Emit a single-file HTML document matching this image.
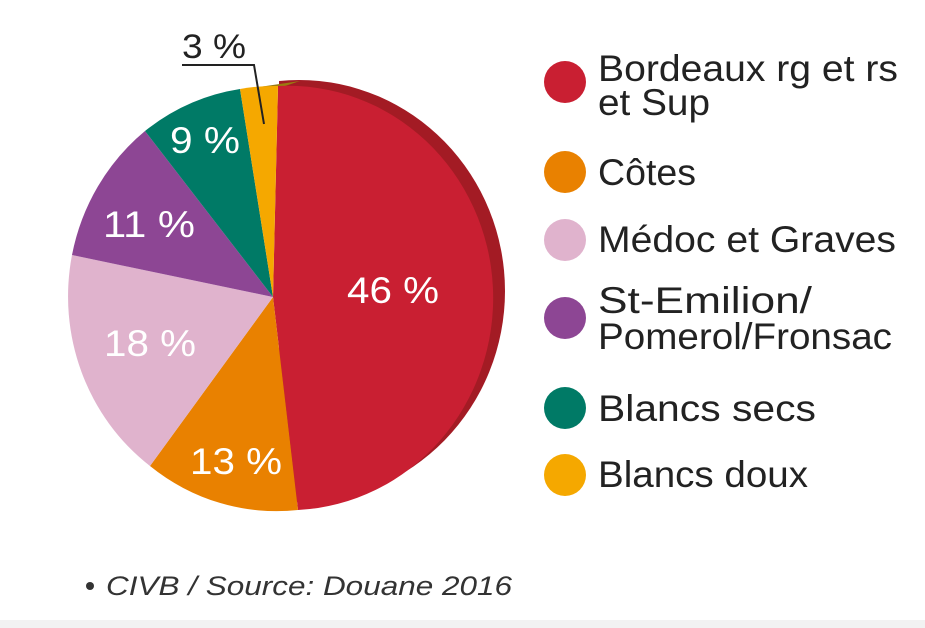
<!DOCTYPE html>
<html><head><meta charset="utf-8"><style>
html,body{margin:0;padding:0;background:#fff;}
svg{display:block;}
</style></head><body>
<svg width="925" height="628" viewBox="0 0 925 628" xmlns="http://www.w3.org/2000/svg" font-family="Liberation Sans, sans-serif">
<defs><clipPath id="rc"><rect x="279" y="0" width="300" height="628"/></clipPath></defs>
<rect x="0" y="620" width="925" height="8" fill="#f2f2f2"/>
<ellipse cx="299" cy="291" rx="206" ry="211" fill="#a31b24" clip-path="url(#rc)"/>
<path d="M252 88 L300 81 L285 86 Z" fill="#9a7a10"/>
<g>
<path d="M273 297 L278 86 A205 212 0 0 1 298 510 Z" fill="#c91f32"/>
<path d="M273 297 L298 510 A205 212 0 0 1 150 466 Z" fill="#e98100"/>
<path d="M273 297 L150 466 A205 212 0 0 1 72 255 Z" fill="#e0b3cd"/>
<path d="M273 297 L72 255 A205 212 0 0 1 145 131 Z" fill="#8d4694"/>
<path d="M273 297 L145 131 A205 212 0 0 1 240 89 Z" fill="#007a66"/>
<path d="M273 297 L240 89 A205 212 0 0 1 278 86 Z" fill="#f5a800"/>
</g>
<g fill="#fff" font-size="37">
<text x="347" y="303" textLength="92" lengthAdjust="spacingAndGlyphs">46 %</text>
<text x="104" y="356" textLength="92" lengthAdjust="spacingAndGlyphs">18 %</text>
<text x="190" y="474" textLength="92" lengthAdjust="spacingAndGlyphs">13 %</text>
<text x="103" y="237" textLength="92" lengthAdjust="spacingAndGlyphs">11 %</text>
<text x="170" y="153" textLength="70" lengthAdjust="spacingAndGlyphs">9 %</text>
</g>
<text x="182" y="58" font-size="34" fill="#222" textLength="64" lengthAdjust="spacingAndGlyphs">3 %</text>
<polyline points="182,65 254,65 264,124" fill="none" stroke="#222" stroke-width="2"/>
<g>
<circle cx="565" cy="82" r="21" fill="#c91f32"/>
<circle cx="565" cy="172" r="21" fill="#e98100"/>
<circle cx="565" cy="240" r="21" fill="#e0b3cd"/>
<circle cx="565" cy="318" r="21" fill="#8d4694"/>
<circle cx="565" cy="408" r="21" fill="#007a66"/>
<circle cx="565" cy="475" r="21" fill="#f5a800"/>
</g>
<g fill="#222" font-size="37">
<text x="598" y="81" textLength="300" lengthAdjust="spacingAndGlyphs">Bordeaux rg et rs</text>
<text x="598" y="115" textLength="112" lengthAdjust="spacingAndGlyphs">et Sup</text>
<text x="598" y="185" textLength="98" lengthAdjust="spacingAndGlyphs">Côtes</text>
<text x="598" y="252" textLength="298" lengthAdjust="spacingAndGlyphs">Médoc et Graves</text>
<text x="598" y="313" textLength="214" lengthAdjust="spacingAndGlyphs">St-Emilion/</text>
<text x="598" y="349" textLength="294" lengthAdjust="spacingAndGlyphs">Pomerol/Fronsac</text>
<text x="598" y="421" textLength="218" lengthAdjust="spacingAndGlyphs">Blancs secs</text>
<text x="598" y="487" textLength="210" lengthAdjust="spacingAndGlyphs">Blancs doux</text>
</g>
<circle cx="90" cy="586" r="4" fill="#333"/>
<text x="106" y="595" font-size="27" font-style="italic" fill="#333" textLength="406" lengthAdjust="spacingAndGlyphs">CIVB / Source: Douane 2016</text>
</svg>
</body></html>
